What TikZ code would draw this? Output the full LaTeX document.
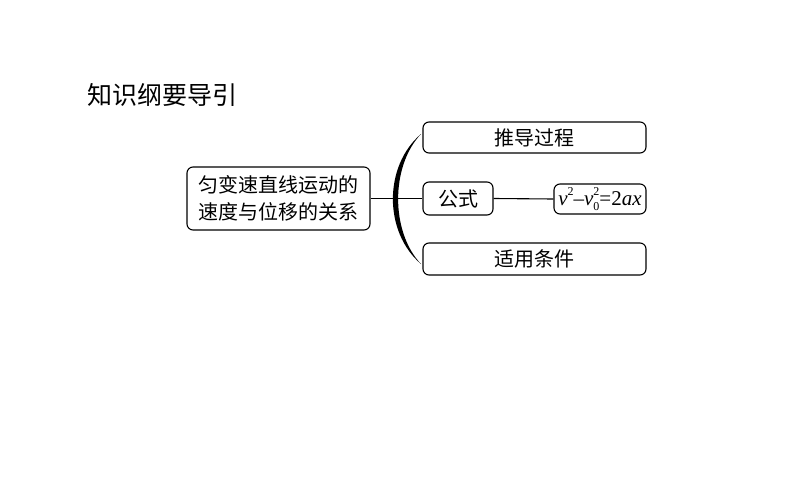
\documentclass[tikz,border=0pt]{standalone}
\usepackage{fontspec}
\newfontfamily\cjk{Noto Sans CJK SC}
\newfontfamily\tms{Liberation Serif}
\newcommand\smallidx[1]{{\fontsize{12}{12}\selectfont #1}}
\tikzset{
  box/.style={draw, line width=1.1pt, rounded corners=6pt, inner sep=0pt,
    font=\cjk\fontsize{20}{27}\selectfont, align=center},
}
\begin{document}
\begin{tikzpicture}[x=1pt,y=-1pt]
\useasboundingbox (0,0) rectangle (794,495);
% title
\node[anchor=west, inner sep=0pt, font=\cjk\fontsize{25}{30}\selectfont] (title) at (87,95) {知识纲要导引};
% main topic
\node[box, minimum width=183, minimum height=63] (main) at (278.5,198.5) {匀变速直线运动的\\速度与位移的关系};
% branches
\node[box, minimum width=223, minimum height=31] (tui) at (534.5,137.5) {推导过程};
\node[box, minimum width=70, minimum height=33] (gs) at (458,198.5) {公式};
\node[box, minimum width=92, minimum height=30, font=\tms\fontsize{21}{22}\selectfont] (fm) at (600,199)
  {\textit{v}\raisebox{0.5em}{\smallidx{2}}–\textit{v}\rlap{\raisebox{0.5em}{\smallidx{2}}}\raisebox{-0.25em}{\smallidx{0}}=2\textit{ax}};
\node[box, minimum width=223, minimum height=32] (sy) at (534.5,259) {适用条件};
% brace
\fill (421,134) .. controls (383.5,166) and (383.5,232) .. (421,264)
  .. controls (390.5,232) and (390.5,166) .. (421,134) -- cycle;
% connectors
\draw[line width=1.1pt] (main.east) -- (gs.west);
\draw[line width=1.1pt] (gs.east) -- (fm.west);
\end{tikzpicture}
\end{document}
